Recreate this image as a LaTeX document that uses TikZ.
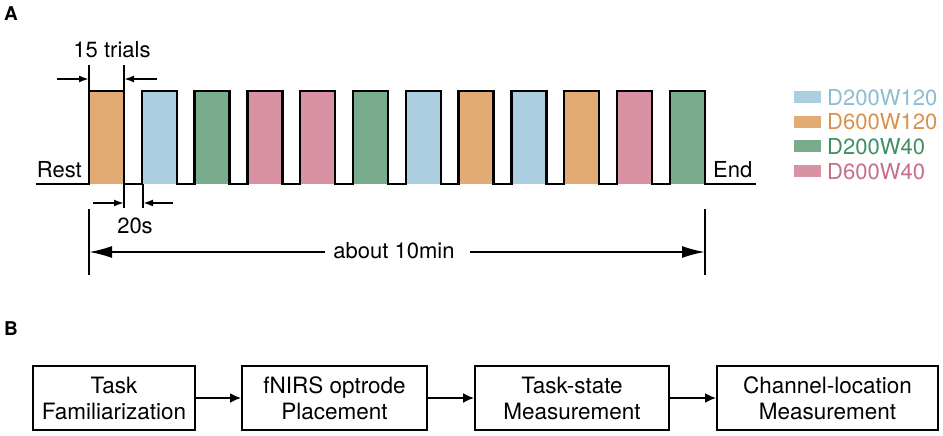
\documentclass[tikz,border=0pt]{standalone}
\usepackage{fontspec}
\setmainfont{TeX Gyre Heros}
\usetikzlibrary{arrows.meta}
\definecolor{cbl}{HTML}{ABCFE0}
\definecolor{cor}{HTML}{E1AB73}
\definecolor{cgr}{HTML}{78AC8C}
\definecolor{cpk}{HTML}{D892A3}
\definecolor{tbl}{HTML}{8DBDD3}
\definecolor{tor}{HTML}{D9924E}
\definecolor{tgr}{HTML}{3F8E66}
\definecolor{tpk}{HTML}{C96E87}
\tikzset{
  txt/.style={font=\fontsize{22}{26}\selectfont, inner sep=0pt},
  pulseline/.style={line width=2.4pt, line join=miter},
  ext/.style={line width=1.8pt},
  smallarr/.style={line width=1.8pt, -{Latex[length=10pt,width=7pt]}},
  bigarr/.style={line width=2pt, -{Latex[length=23pt,width=12pt]}},
  stepbox/.style={draw, line width=1.8pt, minimum height=64pt, inner sep=0pt, align=center, font=\fontsize{22.5}{26}\selectfont},
  flow/.style={line width=2pt, -{Latex[length=11pt,width=10pt]}},
  panel/.style={font=\fontsize{19}{19}\bfseries\selectfont, inner sep=0pt, anchor=base west}
}
\begin{document}
\begin{tikzpicture}[x=1pt,y=-1pt]
\useasboundingbox (0,0) rectangle (943,436);
% panel labels
\node[panel] (labA) at (4,21) {A};
\node[panel] (labB) at (4,335) {B};
% pulse fills
\foreach \c [count=\i from 0] in {cor,cbl,cgr,cpk,cpk,cgr,cbl,cor,cbl,cor,cpk,cgr}{
  \fill[\c] ({89+52.8*\i},91) rectangle ({124+52.8*\i},184);
}
% pulse outline
\draw[pulseline] (36,184) foreach \i in {0,...,11}{
  -- ({89+52.8*\i},184) -- ({89+52.8*\i},91) -- ({124+52.8*\i},91) -- ({124+52.8*\i},184)}
  -- (756,184);
% texts
\node[txt, anchor=base] (trials) at (112,58) {15 trials};
\node[txt, anchor=base east] (rest) at (82,177) {Rest};
\node[txt, anchor=base west] (end) at (713,177) {End};
\node[txt, anchor=base] (twenty) at (135,233) {20s};
\node[txt, anchor=base] (ten) at (394,258) {about 10min};
% extension lines
\coordinate (e1t) at (89,65);  \coordinate (e1b) at (89,91);
\coordinate (e2t) at (124,65); \coordinate (e2b) at (124,91);
\coordinate (e3t) at (124,184); \coordinate (e3b) at (124,208);
\coordinate (e4t) at (143,184); \coordinate (e4b) at (143,208);
\coordinate (e5t) at (89,209); \coordinate (e5b) at (89,275);
\coordinate (e6t) at (705,209); \coordinate (e6b) at (705,275);
\foreach \k in {1,...,6}{ \draw[ext] (e\k t) -- (e\k b); }
% 15 trials arrows
\coordinate (a1s) at (57,79);  \coordinate (a1e) at (89,79);
\coordinate (a2s) at (157,79); \coordinate (a2e) at (124,79);
\draw[smallarr] (a1s) -- (a1e);
\draw[smallarr] (a2s) -- (a2e);
% 20s arrows
\coordinate (b1s) at (93,203);  \coordinate (b1e) at (124,203);
\coordinate (b2s) at (173,203); \coordinate (b2e) at (143,203);
\draw[smallarr] (b1s) -- (b1e);
\draw[smallarr] (b2s) -- (b2e);
% about 10min arrows
\coordinate (c1s) at (325,252); \coordinate (c1e) at (89,252);
\coordinate (c2s) at (470,252); \coordinate (c2e) at (705,252);
\draw[bigarr] (c1s) -- (c1e);
\draw[bigarr] (c2s) -- (c2e);
% legend
\foreach \c/\t/\n [count=\i from 0] in {cbl/tbl/D200W120, cor/tor/D600W120, cgr/tgr/D200W40, cpk/tpk/D600W40}{
  \fill[\c] (794,{91+24.6*\i}) rectangle (821,{103+24.6*\i});
  \node[txt, anchor=west, text=\t] (leg\i) at (827,{97.5+24.6*\i}) {\n};
}
% panel B
\node[stepbox, minimum width=162pt] (s1) at (114,398) {Task\\Familiarization};
\node[stepbox, minimum width=185pt] (s2) at (334.5,398) {fNIRS optrode\\Placement};
\node[stepbox, minimum width=194pt] (s3) at (572,398) {Task-state\\Measurement};
\node[stepbox, minimum width=221pt] (s4) at (827.5,398) {Channel-location\\Measurement};
\draw[flow] (s1) -- (s2);
\draw[flow] (s2) -- (s3);
\draw[flow] (s3) -- (s4);
\end{tikzpicture}
\end{document}
